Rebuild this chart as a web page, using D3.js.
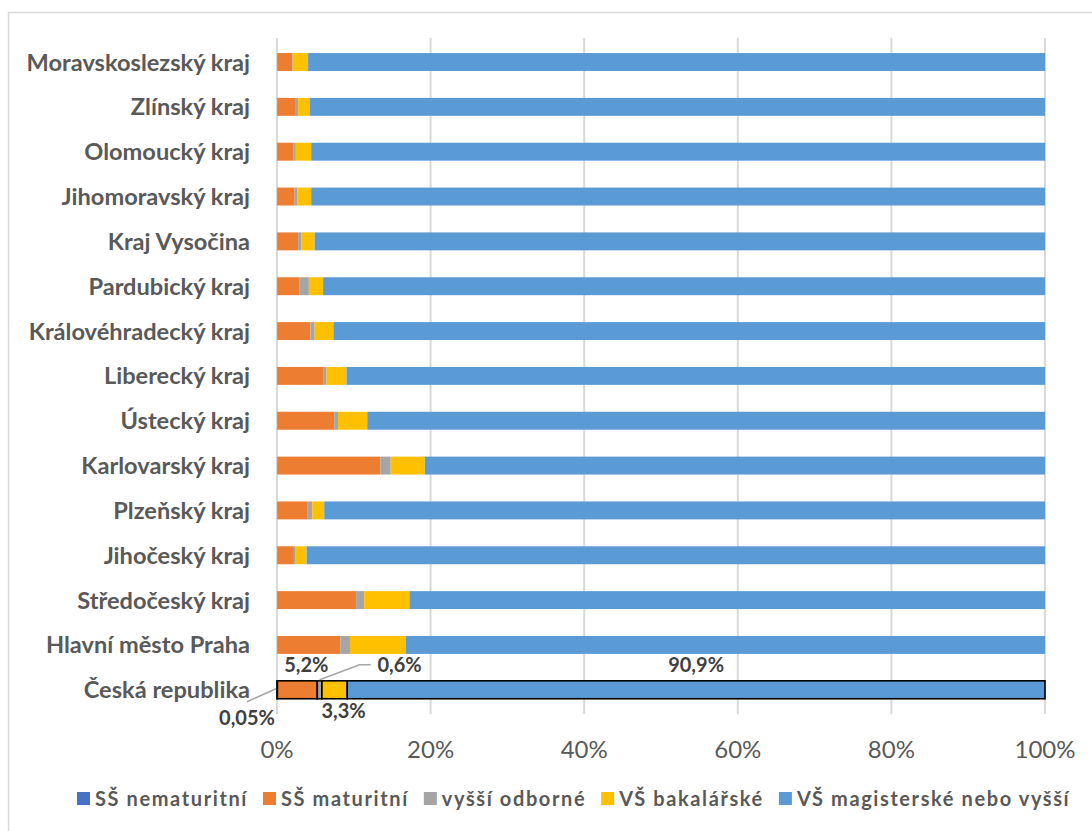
<!DOCTYPE html>
<html>
<head>
<meta charset="utf-8">
<script src="https://cdn.jsdelivr.net/npm/d3@7"></script>
<style>
  html, body { margin: 0; padding: 0; background: #ffffff; }
  svg { display: block; }
  text { font-family: Lato, "Open Sans", sans-serif; }
</style>
</head>
<body>
<svg id="chart" width="1092" height="831"></svg>
<script>
// ---- Data (top to bottom as displayed) ----
const categories = [
  "Moravskoslezský kraj", "Zlínský kraj", "Olomoucký kraj", "Jihomoravský kraj",
  "Kraj Vysočina", "Pardubický kraj", "Královéhradecký kraj", "Liberecký kraj",
  "Ústecký kraj", "Karlovarský kraj", "Plzeňský kraj", "Jihočeský kraj",
  "Středočeský kraj", "Hlavní město Praha", "Česká republika"
];
const seriesNames = ["SŠ nematuritní", "SŠ maturitní", "vyšší odborné", "VŠ bakalářské", "VŠ magisterské nebo vyšší"];
const ssNematuritni = [0.05, 0.05, 0.05, 0.05, 0.05, 0.05, 0.05, 0.05, 0.05, 0.05, 0.05, 0.05, 0.05, 0.05, 0.05];
const ssMaturitni   = [1.9, 2.4, 2.1, 2.25, 2.7, 2.9, 4.3, 5.95, 7.4, 13.4, 3.95, 2.15, 10.25, 8.2, 5.2];
const vyssiOdborne  = [0.1, 0.3, 0.3, 0.35, 0.45, 1.2, 0.55, 0.45, 0.5, 1.35, 0.6, 0.15, 1.05, 1.25, 0.6];
const vsBakalarske  = [2.0, 1.55, 2.0, 1.8, 1.7, 1.85, 2.45, 2.6, 3.8, 4.45, 1.55, 1.5, 5.9, 7.3, 3.3];
const vsMagisterske = [95.95, 95.7, 95.55, 95.55, 95.1, 94.0, 92.65, 90.95, 88.25, 80.75, 93.85, 96.15, 82.75, 83.2, 90.9];
const seriesColors = ["#4472C4", "#ED7D31", "#A5A5A5", "#FFC000", "#5B9BD5"];
const tickValues = [0, 0.2, 0.4, 0.6, 0.8, 1.0];
const tickLabels = ["0%", "20%", "40%", "60%", "80%", "100%"];
// data labels shown for Česká republika
const crLabels = ["0,05%", "5,2%", "0,6%", "3,3%", "90,9%"];

const seriesKeys = ["nem", "mat", "vos", "bc", "mgr"];
const seriesArrays = [ssNematuritni, ssMaturitni, vyssiOdborne, vsBakalarske, vsMagisterske];
const rows = categories.map((c, i) => {
  const r = { cat: c };
  seriesKeys.forEach((k, j) => r[k] = seriesArrays[j][i]);
  return r;
});

const svg = d3.select("#chart");

// chart area border
svg.append("rect").attr("x", 8.5).attr("y", 12.5).attr("width", 1100).attr("height", 840)
  .attr("fill", "#ffffff").attr("stroke", "#d9d9d9").attr("stroke-width", 1.5);

const x = d3.scaleLinear().domain([0, 1]).range([277, 1045]);
const y = d3.scaleBand().domain(categories).range([39.6, 712.2]).paddingInner(0.6).paddingOuter(0.3);

// gridlines
svg.append("g").selectAll("line").data(tickValues).join("line")
  .attr("x1", d => x(d)).attr("x2", d => x(d))
  .attr("y1", 38).attr("y2", 714)
  .attr("stroke", "#d9d9d9").attr("stroke-width", 2);

// x tick labels
svg.append("g").selectAll("text").data(tickValues).join("text")
  .attr("x", d => x(d)).attr("y", 758)
  .attr("text-anchor", "middle")
  .attr("font-size", 24).attr("fill", "#595959")
  .text((d, i) => tickLabels[i]);

// stack
const stack = d3.stack().keys(seriesKeys).offset(d3.stackOffsetExpand);
const layers = stack(rows);

const gBars = svg.append("g");
layers.forEach((layer, li) => {
  gBars.append("g").selectAll("rect").data(layer).join("rect")
    .attr("x", d => x(d[0]))
    .attr("y", d => y(d.data.cat))
    .attr("width", d => Math.max(0, x(d[1]) - x(d[0])))
    .attr("height", y.bandwidth())
    .attr("fill", seriesColors[li])
    .attr("stroke", d => d.data.cat === "Česká republika" ? "#000000" : "none")
    .attr("stroke-width", 1.6);
});

// category labels
svg.append("g").selectAll("text").data(categories).join("text")
  .attr("x", 250).attr("y", d => y(d) + y.bandwidth() / 2 + 8.5)
  .attr("text-anchor", "end")
  .attr("font-size", 23.6).attr("font-weight", "bold").attr("fill", "#595959")
  .text(d => d);

// data labels for Česká republika
const crIdx = categories.indexOf("Česká republika");
const cy = y("Česká republika") + y.bandwidth() / 2;
const seg = layers.map(l => l[crIdx]);
const mid = s => (x(s[0]) + x(s[1])) / 2;
const lab = svg.append("g").attr("font-size", 20).attr("font-weight", "bold").attr("fill", "#404040");
// 0,05% below-left with leader
lab.append("text").attr("x", x(seg[0][0]) - 30).attr("y", cy + 35).attr("text-anchor", "middle").text(crLabels[0]);
svg.append("path").attr("d", `M${x(seg[0][0]) - 30},${cy + 12} L${x(seg[0][0]) - 1},${cy - 1}`)
  .attr("stroke", "#a6a6a6").attr("stroke-width", 1.5).attr("fill", "none");
// 5,2% above
lab.append("text").attr("x", mid(seg[1]) + 9).attr("y", cy - 18).attr("text-anchor", "middle").text(crLabels[1]);
// 0,6% above-right with leader
lab.append("text").attr("x", mid(seg[2]) + 80).attr("y", cy - 18).attr("text-anchor", "middle").text(crLabels[2]);
svg.append("path").attr("d", `M${mid(seg[2]) + 51},${cy - 25} L${mid(seg[2]) + 40},${cy - 25} L${mid(seg[2])},${cy - 10}`)
  .attr("stroke", "#a6a6a6").attr("stroke-width", 1.5).attr("fill", "none");
// 3,3% below
lab.append("text").attr("x", mid(seg[3]) + 9).attr("y", cy + 28).attr("text-anchor", "middle").text(crLabels[3]);
// 90,9% above
lab.append("text").attr("x", mid(seg[4])).attr("y", cy - 18).attr("text-anchor", "middle").text(crLabels[4]);

// legend
const leg = svg.append("g");
let lx = 77;
seriesNames.forEach((name, i) => {
  leg.append("rect").attr("x", lx).attr("y", 792).attr("width", 13).attr("height", 13).attr("fill", seriesColors[i]);
  const t = leg.append("text").attr("x", lx + 18).attr("y", 805.5)
    .attr("font-size", 20).attr("font-weight", "bold").attr("letter-spacing", 1.6)
    .attr("fill", "#595959").text(name);
  const w = t.node().getComputedTextLength();
  lx = lx + 18 + w + 15;
});
</script>
</body>
</html>
